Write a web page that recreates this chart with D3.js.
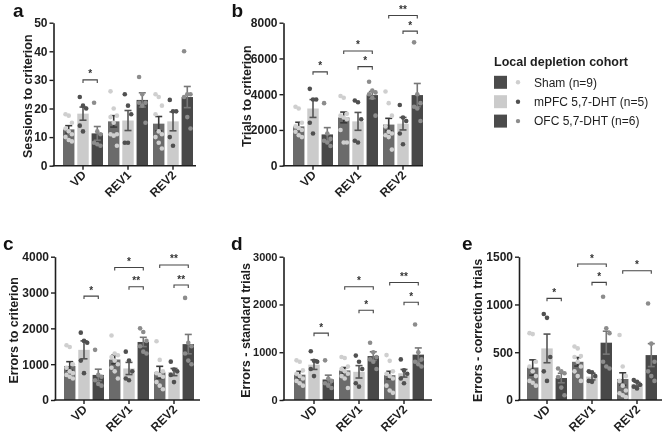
<!DOCTYPE html>
<html><head><meta charset="utf-8">
<script src="https://cdn.jsdelivr.net/npm/d3@7"></script>
<style>
body{margin:0;background:#fff;}
svg{display:block;font-family:"Liberation Sans",Arial,sans-serif;filter:grayscale(100%);}
</style></head>
<body>
<svg id="c" width="666" height="436"></svg>
<script>
const groups = ["VD", "REV1", "REV2"];
const cohorts = ["Sham (n=9)", "mPFC 5,7-DHT (n=5)", "OFC 5,7-DHT (n=6)"];
const legendTitle = "Local depletion cohort";

// a: Sessions to criterion  [group][cohort]
const sessionsMean = [[12.7, 18.2, 11.3], [15.5, 15.8, 23.0], [14.7, 15.5, 24.0]];
const sessionsSem  = [[1.3, 2.3, 2.4], [2.0, 3.5, 2.5], [2.5, 3.3, 3.7]];
const sessionsPts  = [
  [[18, 17.5, 15, 13, 12, 11, 10, 9, 8.5], [24, 21, 20, 14, 12], [22, 12, 11, 8, 7.5, 7]],
  [[26, 20, 17.5, 17, 15, 11, 11, 10.5, 7], [25, 21, 18, 8, 8], [31, 25, 22, 22, 21, 15]],
  [[25, 24, 21, 18, 12, 11, 10, 8, 6], [23, 19, 19, 10, 7], [40, 25, 25, 24, 17, 13]]
];
const sessionsTicks = [0, 10, 20, 30, 40, 50];
const sessionsSig = [["VD", 1, 2, 30, "*"]];

// b: Trials to criterion
const trialsMean = [[2200, 3200, 1750], [2700, 2480, 3950], [2300, 2350, 3950]];
const trialsSem  = [[230, 500, 380], [300, 500, 200], [350, 350, 650]];
const trialsPts  = [
  [[3300, 3200, 2400, 2200, 2100, 2000, 1900, 1700, 1600], [4300, 3700, 3700, 2400, 1800], [3500, 1800, 1500, 1400, 1300, 1100]],
  [[3900, 3800, 2900, 2800, 2700, 2600, 2000, 1300, 1300], [3650, 3550, 2600, 1400, 1300], [4700, 4200, 4100, 4000, 3800, 2800]],
  [[4150, 3500, 2800, 2200, 1900, 1800, 1700, 1600, 900], [3400, 2700, 2500, 1800, 1200], [6900, 4000, 3500, 3300, 3200, 2500]]
];
const trialsTicks = [0, 2000, 4000, 6000, 8000];
const trialsSig = [["VD", 1, 2, 5250, "*"], ["REV1", 0, 2, 6420, "*"], ["REV1", 1, 2, 5540, "*"], ["REV2", 0, 2, 8400, "**"], ["REV2", 1, 2, 7530, "*"]];

// c: Errors to criterion
const errorsMean = [[950, 1400, 700], [1130, 880, 1620], [770, 780, 1560]];
const errorsSem  = [[120, 250, 160], [120, 170, 130], [170, 100, 270]];
const errorsPts  = [
  [[1530, 1480, 1000, 900, 800, 750, 700, 650, 600], [1880, 1650, 1600, 1100, 750], [1400, 700, 650, 550, 450, 400]],
  [[1800, 1300, 1250, 1200, 1100, 1000, 900, 800, 600], [1350, 1100, 800, 600, 550], [2000, 1900, 1650, 1500, 1350, 1300]],
  [[1640, 1120, 800, 750, 700, 650, 500, 400, 300], [1070, 850, 800, 700, 500], [2850, 1600, 1500, 1300, 1100, 1000]]
];
const errorsTicks = [0, 1000, 2000, 3000, 4000];
const errorsSig = [["VD", 1, 2, 2900, "*"], ["REV1", 0, 2, 3700, "*"], ["REV1", 1, 2, 3160, "**"], ["REV2", 0, 2, 3770, "**"], ["REV2", 1, 2, 3210, "**"]];

// d: Errors - standard trials
const standardMean = [[530, 740, 430], [620, 590, 920], [520, 560, 950]];
const standardSem  = [[70, 100, 90], [60, 130, 90], [80, 80, 140]];
const standardPts  = [
  [[830, 800, 620, 550, 500, 450, 400, 350, 300], [1020, 820, 800, 650, 500], [830, 450, 400, 350, 300, 250]],
  [[900, 880, 700, 650, 600, 550, 500, 450, 250], [930, 800, 650, 350, 280], [1200, 1000, 900, 850, 800, 650]],
  [[940, 820, 600, 550, 500, 450, 300, 200, 150], [850, 620, 550, 450, 350], [1580, 1000, 850, 800, 750, 700]]
];
const standardTicks = [0, 1000, 2000, 3000];
const standardSig = [["VD", 1, 2, 1400, "*"], ["REV1", 0, 2, 2370, "*"], ["REV1", 1, 2, 1880, "*"], ["REV2", 0, 2, 2460, "**"], ["REV2", 1, 2, 2045, "*"]];

// e: Errors - correction trials
const correctionMean = [[340, 540, 230], [400, 245, 600], [220, 165, 470]];
const correctionSem  = [[80, 150, 50], [45, 35, 120], [65, 20, 120]];
const correctionPts  = [
  [[700, 690, 400, 350, 300, 250, 200, 180, 150], [900, 860, 450, 300, 200], [330, 300, 280, 240, 130, 50]],
  [[560, 540, 460, 450, 400, 350, 300, 250, 200], [300, 290, 250, 200, 190], [1080, 750, 700, 400, 350, 330]],
  [[680, 350, 250, 200, 150, 100, 70, 50, 30], [210, 190, 160, 140, 120], [1010, 590, 400, 300, 250, 200]]
];
const correctionTicks = [0, 500, 1000, 1500];
const correctionSig = [["VD", 1, 2, 1064, "*"], ["REV1", 0, 2, 1423, "*"], ["REV1", 1, 2, 1231, "*"], ["REV2", 0, 2, 1353, "*"]];

// styles
const barFill = ["#6b6b6b", "#cbcbcb", "#484848"];
const errColor = ["#3a3a3a", "#555555", "#777777"];
const ptColor = ["#cfcfcf", "#505050", "#8c8c8c"];
const legendSquare = ["#4b4b4b", "#cbcbcb", "#4b4b4b"];
const ink = "#1e1e1e";

const panels = [
  {letter: "a", label: "Sessions to criterion", mean: sessionsMean, sem: sessionsSem, pts: sessionsPts, ticks: sessionsTicks, sig: sessionsSig,
   axisX: 53.5, barStart: 63, axisEnd: 196, top: 22.7, bottom: 165.7, lx: 13, ly: 17, labX: 27, tickFs: 12},
  {letter: "b", label: "Trials to criterion", mean: trialsMean, sem: trialsSem, pts: trialsPts, ticks: trialsTicks, sig: trialsSig,
   axisX: 283.5, barStart: 293, axisEnd: 423, top: 22.7, bottom: 165.7, lx: 231.5, ly: 16.5, labX: 246, tickFs: 12},
  {letter: "c", label: "Errors to criterion", mean: errorsMean, sem: errorsSem, pts: errorsPts, ticks: errorsTicks, sig: errorsSig,
   axisX: 55, barStart: 64, axisEnd: 200, top: 256.7, bottom: 400, lx: 3, ly: 250, labX: 13, tickFs: 12},
  {letter: "d", label: "Errors - standard trials", mean: standardMean, sem: standardSem, pts: standardPts, ticks: standardTicks, sig: standardSig,
   axisX: 283.5, barStart: 294, axisEnd: 432, top: 256.7, bottom: 400, lx: 231, ly: 249.5, labX: 245.5, tickFs: 11},
  {letter: "e", label: "Errors - correction trials", mean: correctionMean, sem: correctionSem, pts: correctionPts, ticks: correctionTicks, sig: correctionSig,
   axisX: 519, barStart: 527, axisEnd: 662, top: 256.7, bottom: 400, lx: 462, ly: 250, labX: 477, tickFs: 12}
];

const svg = d3.select("#c");

panels.forEach(p => {
  const g = svg.append("g");
  const y = d3.scaleLinear().domain([0, p.ticks[p.ticks.length - 1]]).range([p.bottom, p.top]);
  const xg = d3.scaleBand().domain(groups).range([p.barStart, p.barStart + 130]).paddingInner(5 / 45).paddingOuter(0);
  const xc = d3.scaleBand().domain([0, 1, 2]).range([0, xg.bandwidth()]).paddingInner(0.2).paddingOuter(0);
  const bw = xc.bandwidth();

  groups.forEach((grp, gi) => {
    [0, 1, 2].forEach(ci => {
      const x0 = xg(grp) + xc(ci);
      const cx = x0 + bw / 2;
      const m = p.mean[gi][ci], s = p.sem[gi][ci];
      g.append("rect").attr("x", x0).attr("width", bw)
        .attr("y", y(m)).attr("height", y(0) - y(m)).attr("fill", barFill[ci]);
      const eg = g.append("g").attr("stroke", errColor[ci]).attr("stroke-width", 1.6);
      eg.append("line").attr("x1", cx).attr("x2", cx).attr("y1", y(m - s)).attr("y2", y(m + s));
      eg.append("line").attr("x1", cx - 3.5).attr("x2", cx + 3.5).attr("y1", y(m + s)).attr("y2", y(m + s));
      eg.append("line").attr("x1", cx - 3.5).attr("x2", cx + 3.5).attr("y1", y(m - s)).attr("y2", y(m - s));
      const pts = p.pts[gi][ci];
      pts.forEach((v, i) => {
        const off = ((i % 3) - 1) * 3.2;
        g.append("circle").attr("cx", cx + off).attr("cy", y(v)).attr("r", 2.3).attr("fill", ptColor[ci]);
      });
    });
  });

  const ya = g.append("g").attr("transform", `translate(${p.axisX},0)`)
    .call(d3.axisLeft(y).tickValues(p.ticks).tickFormat(d3.format("d")).tickSize(4).tickSizeOuter(0).tickPadding(2));
  ya.select(".domain").attr("stroke", ink).attr("stroke-width", 1.6);
  ya.selectAll(".tick line").attr("stroke", ink).attr("stroke-width", 1.4);
  ya.selectAll(".tick text").attr("fill", ink).attr("font-size", p.tickFs).attr("font-weight", "bold")
    .attr("font-family", "Liberation Sans, Arial, sans-serif");

  g.append("line").attr("x1", p.axisX - 0.8).attr("x2", p.axisEnd).attr("y1", p.bottom).attr("y2", p.bottom)
    .attr("stroke", ink).attr("stroke-width", 1.6);
  const xa = g.append("g").attr("transform", `translate(0,${p.bottom})`)
    .call(d3.axisBottom(xg).tickSize(4).tickSizeOuter(0));
  xa.select(".domain").remove();
  xa.selectAll(".tick line").attr("stroke", ink).attr("stroke-width", 1.4);
  xa.selectAll(".tick text").attr("fill", ink).attr("font-size", 12).attr("font-weight", "bold")
    .attr("font-family", "Liberation Sans, Arial, sans-serif")
    .attr("text-anchor", "end").attr("dy", null).attr("y", null)
    .attr("transform", "translate(4,10) rotate(-45)");

  p.sig.forEach(([grp, a, b, v, lab]) => {
    const xa1 = xg(grp) + xc(a) + bw / 2;
    const xb1 = xg(grp) + xc(b) + bw / 2;
    const yy = y(v);
    g.append("path").attr("d", `M${xa1},${yy + 3}V${yy}H${xb1}V${yy + 3}`)
      .attr("fill", "none").attr("stroke", "#444").attr("stroke-width", 1.1);
    g.append("text").attr("x", (xa1 + xb1) / 2).attr("y", yy - 2.5).attr("text-anchor", "middle")
      .attr("font-size", 10).attr("font-weight", "bold").attr("fill", "#333").text(lab);
  });

  g.append("text").attr("transform", `translate(${p.labX + 4.5},${(p.top + p.bottom) / 2 + 2}) rotate(-90)`)
    .attr("text-anchor", "middle").attr("font-size", 12.5).attr("font-weight", "bold").attr("fill", ink).text(p.label);

  g.append("text").attr("x", p.lx).attr("y", p.ly).attr("font-size", 19).attr("font-weight", "bold")
    .attr("fill", "#111").text(p.letter);
});

const lg = svg.append("g");
lg.append("text").attr("x", 494).attr("y", 66).attr("font-size", 12.5).attr("font-weight", "bold").attr("fill", ink).text(legendTitle);
cohorts.forEach((c, i) => {
  const cy = 82.3 + i * 19.4;
  lg.append("rect").attr("x", 494).attr("y", cy - 6.5).attr("width", 13).attr("height", 13).attr("fill", legendSquare[i]);
  lg.append("circle").attr("cx", 518).attr("cy", cy).attr("r", 2.2).attr("fill", ptColor[i]);
  lg.append("text").attr("x", 534).attr("y", cy + 4.3).attr("font-size", 12).attr("fill", ink).text(c);
});
</script>
</body></html>
